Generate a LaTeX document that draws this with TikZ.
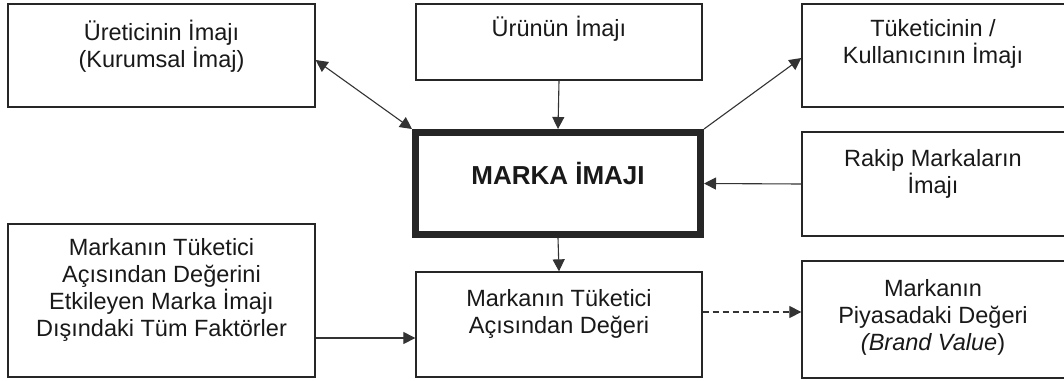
\documentclass[tikz,border=0pt]{standalone}
\usepackage{fontspec}
\setmainfont{Liberation Sans}
\usetikzlibrary{arrows.meta}
\begin{document}
\begin{tikzpicture}[x=1pt,y=-1pt,
  box/.style={draw=black!85, line width=1.3pt, rectangle, inner sep=0pt, fill=white},
  % multi-line labels are placed by the baseline of their last line
  lbl/.style={align=center, font=\fontsize{23.5}{27}\selectfont, anchor=base, inner sep=0pt, text=black!90},
  conn/.style={draw=black!80, line width=1.1pt, -{Triangle[length=12pt,width=12pt]}},
  ]
\useasboundingbox (0,0) rectangle (1064,380);
\clip (0,0) rectangle (1064,380);
\fill[white] (0,0) rectangle (1064,380);

% boxes
\node[box, minimum width=307pt, minimum height=103pt] (tl) at (161.5,55.5) {};
\node[box, minimum width=286pt, minimum height=76pt]  (tm) at (559,42) {};
\node[box, minimum width=278pt, minimum height=103pt] (tr) at (941,55.5) {};
\node[box, line width=7pt, minimum width=285pt, minimum height=102pt] (mk) at (558,183.5) {};
\node[box, minimum width=278pt, minimum height=104pt] (rk) at (941,184) {};
\node[box, minimum width=307pt, minimum height=153pt] (bl) at (161.5,300.5) {};
\node[box, minimum width=286pt, minimum height=105pt] (bm) at (559,324.5) {};
\node[box, minimum width=278pt, minimum height=117pt] (br) at (941,319.5) {};

% texts
\node[lbl] (tlt) at (161.5,67) {Üreticinin İmajı\\(Kurumsal İmaj)};
\node[lbl] (tmt) at (559,36) {Ürünün İmajı};
\node[lbl] (trt) at (933,63.5) {Tüketicinin /\\Kullanıcının İmajı};
\node[lbl, font=\bfseries\fontsize{26}{30}\selectfont] (mkt) at (558,184) {MARKA İMAJI};
\node[lbl] (rkt) at (933,193) {Rakip Markaların\\İmajı};
\node[lbl] (blt) at (161.5,336) {Markanın Tüketici\\Açısından Değerini\\Etkileyen Marka İmajı\\Dışındaki Tüm Faktörler};
\node[lbl] (bmt) at (559,333) {Markanın Tüketici\\Açısından Değeri};
\node[lbl] (brt) at (933,350) {Markanın\\Piyasadaki Değeri\\\textit{(Brand Value})};

% connectors
\draw[conn, {Triangle[length=12pt,width=12pt]}-{Triangle[length=12pt,width=12pt]}] ([yshift=-4.5pt]tl.east) -- (mk.north west);
\draw[conn] (tm.south) -- (mk.north);
\draw[conn] (mk.north east) -- ([yshift=-2.5pt]tr.west);
\draw[conn] (rk.west) -- (mk.east);
\draw[conn] (mk.south) -- (bm.north);
\draw[conn] ([yshift=-37.5pt]bl.east) -- ([yshift=-37.5pt]bl.east -| bm.west);
\draw[conn, dash pattern=on 6pt off 4pt] ([yshift=12.5pt]bm.east) -- ([yshift=12.5pt]bm.east -| br.west);
\end{tikzpicture}
\end{document}
